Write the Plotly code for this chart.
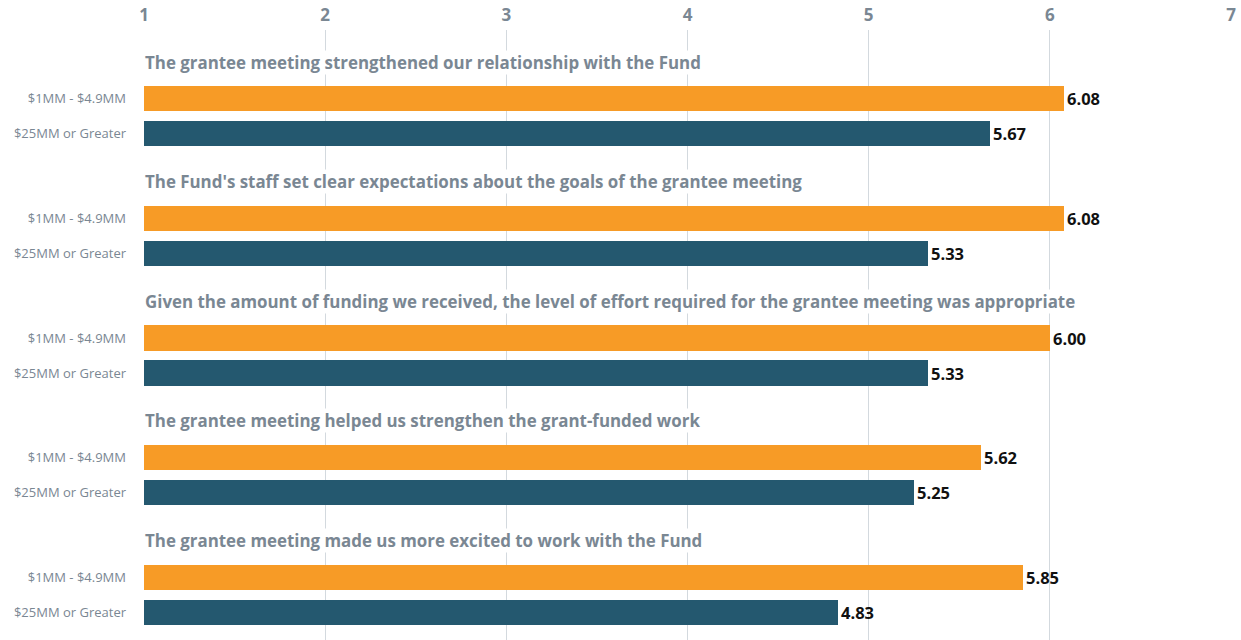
import plotly.graph_objects as go

questions = [
    "The grantee meeting strengthened our relationship with the Fund",
    "The Fund's staff set clear expectations about the goals of the grantee meeting",
    "Given the amount of funding we received, the level of effort required for the grantee meeting was appropriate",
    "The grantee meeting helped us strengthen the grant-funded work",
    "The grantee meeting made us more excited to work with the Fund",
]
series_names = ["$1MM - $4.9MM", "$25MM or Greater"]
small_grants = [6.08, 6.08, 6.00, 5.62, 5.85]
large_grants = [5.67, 5.33, 5.33, 5.25, 4.83]
scale_ticks = [1, 2, 3, 4, 5, 6, 7]

ORANGE = "#F79B26"
TEAL = "#24586F"
GREY_TEXT = "#7A8793"
GRID = "#D3D9DE"

# each question block: title row above, then one row per series
BLOCK = 3.417
small_rows = [i * BLOCK for i in range(len(questions))]
large_rows = [r + 1 for r in small_rows]
title_rows = [r - 1.05 for r in small_rows]

fig = go.Figure()
for name, vals, rows, col in [
    (series_names[0], small_grants, small_rows, ORANGE),
    (series_names[1], large_grants, large_rows, TEAL),
]:
    fig.add_trace(go.Bar(
        x=vals, y=rows, orientation="h", name=name,
        marker=dict(color=col, line=dict(width=0)),
        width=0.72,
        text=[f"<b>{v:.2f}</b>" for v in vals],
        textposition="outside",
        textfont=dict(family="Open Sans", size=16.5, color="#111111"),
        cliponaxis=False,
    ))

for q, r in zip(questions, title_rows):
    fig.add_annotation(
        x=1, y=r, xref="x", yref="y", text=f"<b>{q}</b>",
        xanchor="left", yanchor="middle", showarrow=False,
        font=dict(family="Open Sans", size=16.9, color=GREY_TEXT),
        bgcolor="white", borderpad=0,
    )

tick_rows = small_rows + large_rows
tick_text = [series_names[0]] * len(small_rows) + [series_names[1]] * len(large_rows)

fig.update_layout(
    width=1241, height=640,
    margin=dict(l=144, r=10, t=30, b=0),
    paper_bgcolor="white", plot_bgcolor="white",
    showlegend=False,
    bargap=0,
    xaxis=dict(
        range=[1, 7], side="top", tickvals=scale_ticks,
        ticktext=[f"<b>{t}</b>" for t in scale_ticks],
        tickfont=dict(family="Open Sans", size=17, color=GREY_TEXT),
        showgrid=True, gridcolor=GRID, gridwidth=1,
        zeroline=False, showline=False, ticks="",
        ticklabelstandoff=5,
    ),
    yaxis=dict(
        range=[15.463, -1.966], tickvals=tick_rows, ticktext=tick_text,
        tickfont=dict(family="Open Sans", size=13, color=GREY_TEXT),
        showgrid=False, zeroline=False, showline=False, ticks="",
        ticklabelstandoff=17,
    ),
)

fig.write_html("out.html")
